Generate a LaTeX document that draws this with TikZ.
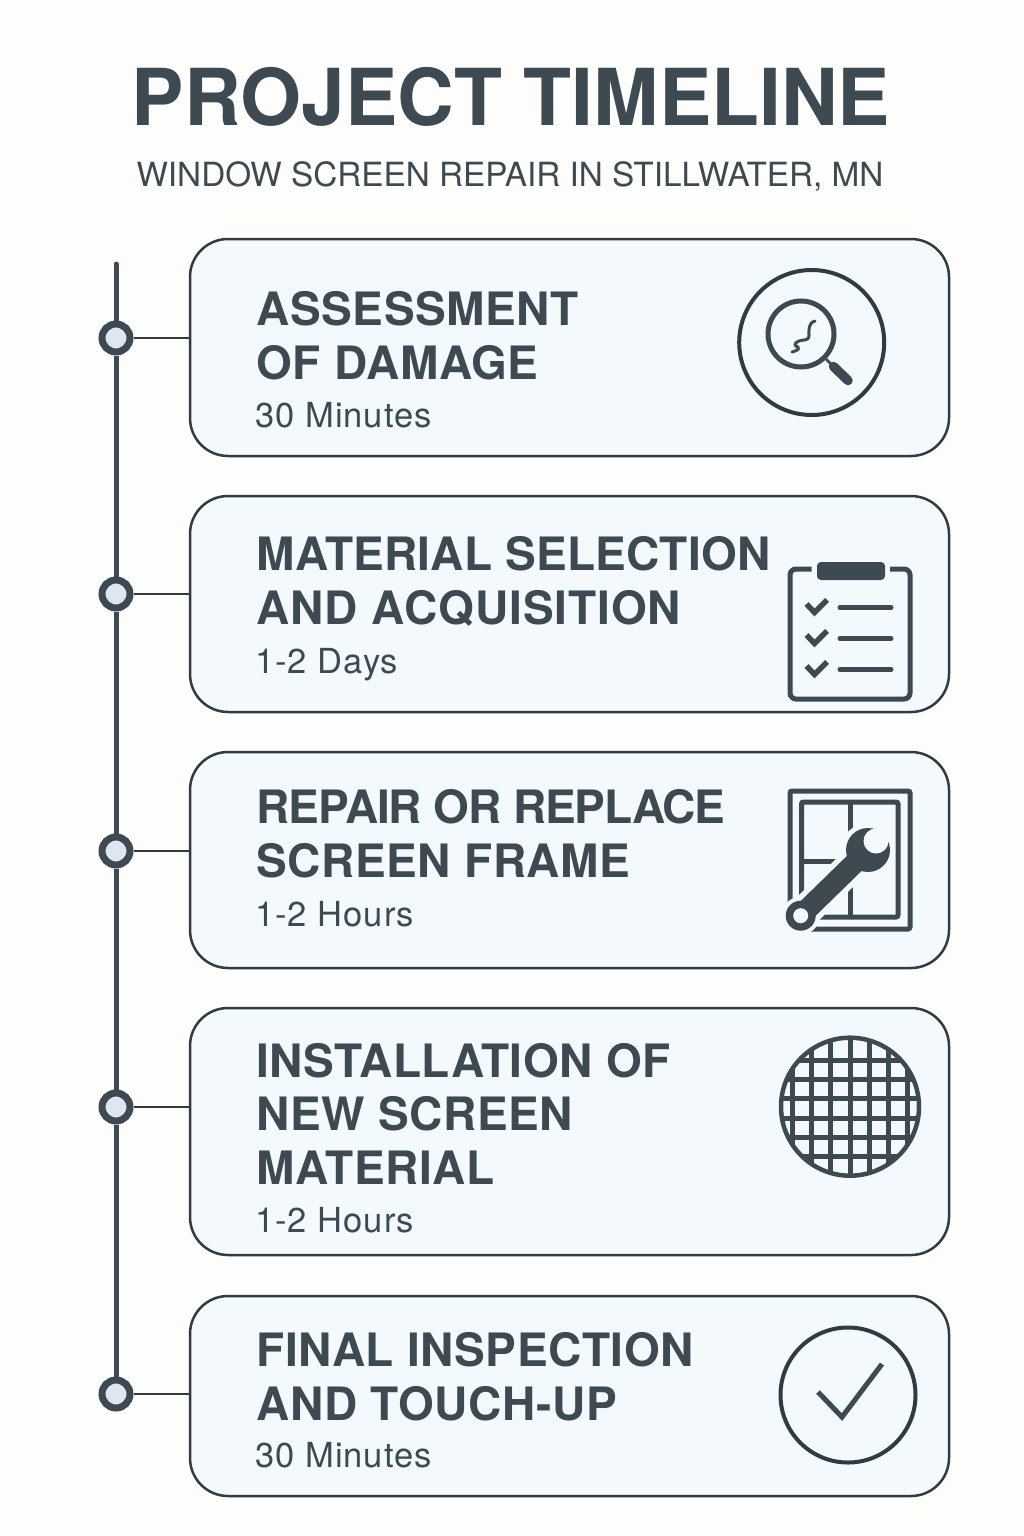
\documentclass[tikz,border=0pt]{standalone}
\usepackage{fontspec}
\setmainfont{TeX Gyre Heros}
\newfontfamily\headfont[LetterSpace=1.2]{TeX Gyre Heros}
\newfontfamily\timefont[LetterSpace=3]{TeX Gyre Heros}
\usetikzlibrary{positioning,calc}
\definecolor{ink}{HTML}{3D4A52}
\definecolor{edgeink}{HTML}{2F3C44}
\definecolor{page}{HTML}{FDFDFB}
\definecolor{cardfill}{HTML}{F4F9FC}
\definecolor{dotfill}{HTML}{DFE6EE}
\tikzset{
    every node/.style={text=ink, inner sep=0pt},
    card/.style={draw=edgeink, fill=cardfill, line width=2.5pt, rounded corners=38pt, minimum width=759pt},
    dot/.style={circle, draw=ink, fill=dotfill, line width=7pt, minimum size=28pt},
    spine/.style={draw=ink, line width=5pt, line cap=round},
    stem/.style={draw=edgeink, line width=2pt},
    steptitle/.style={anchor=base west, align=left, font=\fontsize{46}{53.5}\selectfont\headfont\bfseries},
    steptime/.style={anchor=base west, font=\fontsize{34.5}{38}\selectfont\timefont},
    icon/.style={draw=ink, line width=5pt},
    thinicon/.style={circle, draw=edgeink, line width=4pt},
}

\begin{document}
\begin{tikzpicture}[x=1pt,y=-1pt]
\useasboundingbox[fill=page] (0,0) rectangle (1024,1536);

\node[anchor=base, font=\fontsize{78.5}{90}\selectfont\bfseries] (title) at (511,125) {PROJECT TIMELINE};
\node[anchor=base, font=\fontsize{33.3}{40}\selectfont] (subtitle) at (510,186) {WINDOW SCREEN REPAIR IN STILLWATER, MN};

% cards, dots and their stems
\foreach \i/\cy/\h/\dy in {1/347.5/217/338,2/604/216/594,3/860/216/851,4/1131.5/247/1107,5/1396/200/1394}{
  \node[card,minimum height=\h pt] (card\i) at (569.5,\cy) {};
  \node[dot] (dot\i) at (116,\dy) {};
  \draw[stem] (dot\i) -- (card\i.west |- dot\i);
}

% the line through the dots
\coordinate (spinetop) at (116,264);
\draw[spine] (spinetop) -- (dot1);
\foreach \i in {1,...,4}{
  \pgfmathtruncatemacro{\j}{\i+1}
  \draw[spine,line cap=butt] (dot\i) -- (dot\j);
}

\foreach \i/\ty/\dy/\name/\span in {
  1/379/427/{ASSESSMENT\\OF DAMAGE}/30 Minutes,
  2/624/673/{{\addfontfeature{LetterSpace=0.5}MATERIAL SELECTION}\\{\addfontfeature{LetterSpace=2}AND ACQUISITION}}/1-2 Days,
  3/877/926/{\addfontfeature{LetterSpace=-2.4}REPAIR OR REPLACE\\SCREEN FRAME}/1-2 Hours,
  4/1184/1232/{INSTALLATION OF\\NEW SCREEN\\MATERIAL}/1-2 Hours,
  5/1420/1467/{FINAL INSPECTION\\AND TOUCH-UP}/30 Minutes}{
  \node[steptitle] (name\i) at (256.5,\ty) {\name};
  \node[steptime] (time\i) at (255,\dy) {\span};
}

% magnifier
\node[thinicon,minimum size=145pt] (iconA) at (811.7,342.5) {};
\node[circle,draw=ink,line width=5pt,minimum size=66pt] (lens) at (801,334) {};
\coordinate (grip) at (833.5,366.5);
\draw[draw=ink,line width=2.5pt] (lens) -- (grip);
\draw[draw=ink,line width=9.5pt,line cap=round] (grip) -- (848,380.5);
\draw[draw=ink,line width=3pt,line cap=round] (815,321) .. controls (808,323) and (809,330) .. (809,335)
  .. controls (809,342) and (803,339) .. (799,341) .. controls (793,343) and (795,347) .. (798,347)
  .. controls (800,350) and (795,351) .. (792,352);

% clipboard
\draw[icon,rounded corners=6pt] (811.5,569) -- (790,569) -- (790,699) -- (910,699) -- (910,569) -- (890,569);
\node[fill=ink,rounded corners=4pt,minimum width=68pt,minimum height=18pt] (clip) at (851,571) {};
\foreach \dy in {0,31,62}{
  \draw[draw=ink,line width=5.5pt] (806.5,604+\dy) -- (814.5,612.5+\dy) -- (827,600+\dy);
  \draw[draw=ink,line width=5pt,line cap=round] (840,607.5+\dy) -- (891,607.5+\dy);
}

% window and wrench
\draw[icon,rounded corners=2pt] (790,791) rectangle (910,929);
\draw[icon,rounded corners=2pt] (801.5,802) rectangle (898,917);
\draw[icon] (850,802) -- (850,917);
\draw[icon] (801.5,861) -- (850,861);
\draw[draw=cardfill,line width=32pt] (800.7,915.7) -- (868,850);
\fill[cardfill] (868,850) circle (27pt);
\fill[cardfill] (800.7,915.7) circle (19pt);
\draw[draw=ink,line width=21pt] (800.7,915.7) -- (868,850);
\fill[ink] (800.7,915.7) circle (15pt);
\fill[cardfill] (800.7,915.7) circle (7.5pt);
\fill[ink] (868,850) circle (22pt);
\fill[cardfill] (876,841) circle (12.5pt);
\fill[cardfill] (875,830) -- (880,823) -- (893,836) -- (890,843) -- cycle;

% screen mesh
\begin{scope}
  \clip (850,1106.7) circle (70pt);
  \foreach \dx in {-3,...,3}{
    \draw[icon] (850+\dx*19.3,1030) -- (850+\dx*19.3,1190);
  }
  \foreach \dy in {-2.5,-1.5,...,2.5}{
    \draw[icon] (770,1108.4+\dy*19.3) -- (930,1108.4+\dy*19.3);
  }
\end{scope}
\node[circle,draw=ink,line width=4.5pt,minimum size=138pt] (mesh) at (850,1106.7) {};

% check
\node[thinicon,minimum size=135pt] (iconE) at (848,1395) {};
\draw[draw=ink,line width=5pt] (818,1392) -- (842,1417) -- (882,1364);

\end{tikzpicture}
\end{document}
